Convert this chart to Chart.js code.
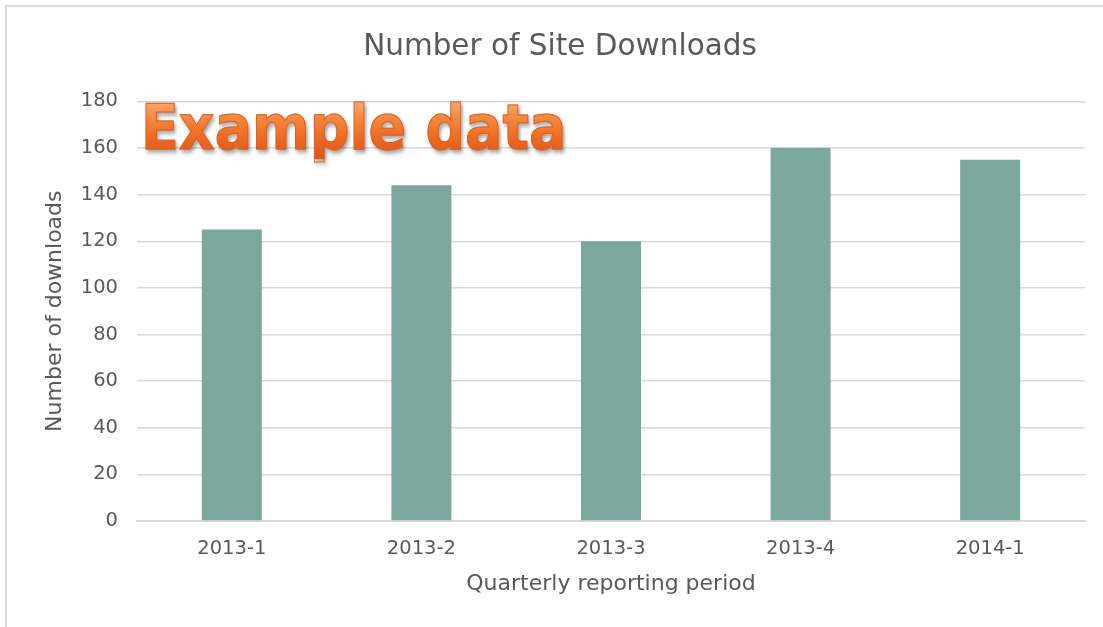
<!DOCTYPE html>
<html>
<head>
<meta charset="utf-8">
<title>Number of Site Downloads</title>
<script src="https://cdn.jsdelivr.net/npm/chart.js@4"></script>
<style>
    html, body { margin: 0; padding: 0; background: #ffffff; overflow: hidden; }
    #wrap { position: relative; width: 1103px; height: 627px; }
    #frame {
        position: absolute; left: 5px; top: 5px; width: 1200px; height: 700px;
        border-top: 2px solid #dcdcdc; border-left: 2px solid #dcdcdc;
        pointer-events: none;
    }
    #downloadsChart { position: absolute; left: 0; top: 0; }
    #stamp {
        position: absolute; left: 141px; top: 96px;
        font-family: "DejaVu Sans", sans-serif; font-weight: bold; font-size: 63px;
        line-height: 1; white-space: nowrap;
        transform-origin: 0 0; transform: scaleX(0.88);
        background: linear-gradient(#fcb583 0%, #f6873f 35%, #ee6b22 65%, #dd5518 100%);
        -webkit-background-clip: text; background-clip: text; color: transparent;
        -webkit-text-stroke: 1px #d9601f;
        filter: drop-shadow(2px 3px 2px rgba(0, 0, 0, 0.35));
    }
</style>
</head>
<body>
<div id="wrap">
    <canvas id="downloadsChart" width="1103" height="627"></canvas>
    <div id="frame"></div>
    <div id="stamp">Example data</div>
</div>
<script>
// ====================================================
// Chart data
// ====================================================
const periods = ['2013-1', '2013-2', '2013-3', '2013-4', '2014-1'];
const downloads = [125, 144, 120, 160, 155];
const yTicks = [0, 20, 40, 60, 80, 100, 120, 140, 160, 180];

const textColor = '#595959';
const gridColor = '#d9d9d9';
const barColor = '#7ba79d';

// ====================================================
// Build chart
// ====================================================
function initializeChart() {
    const ctx = document.getElementById('downloadsChart');

    new Chart(ctx, {
        type: 'bar',
        data: {
            labels: periods,
            datasets: [{
                label: 'Number of downloads',
                data: downloads,
                backgroundColor: barColor,
                borderWidth: 0,
                barPercentage: 0.5,
                categoryPercentage: 0.633
            }]
        },
        options: {
            responsive: false,
            animation: false,
            layout: {
                padding: { left: 35, right: 18, top: 0, bottom: 0 }
            },
            plugins: {
                legend: { display: false },
                tooltip: { enabled: false },
                title: {
                    display: true,
                    text: 'Number of Site Downloads',
                    color: textColor,
                    font: { family: 'DejaVu Sans', size: 29.5, weight: 'normal' },
                    padding: { top: 30, bottom: 36 }
                }
            },
            scales: {
                x: {
                    afterFit: (scale) => { scale.height = 106; },
                    grid: { display: false, drawTicks: false },
                    border: { color: gridColor, width: 2 },
                    ticks: {
                        color: textColor,
                        font: { family: 'DejaVu Sans', size: 19.5 },
                        padding: 16
                    },
                    title: {
                        display: true,
                        text: 'Quarterly reporting period',
                        color: textColor,
                        font: { family: 'DejaVu Sans', size: 22 },
                        padding: { top: 0, bottom: 30 }
                    }
                },
                y: {
                    min: 0,
                    max: 180,
                    afterFit: (scale) => { scale.width = 102; },
                    afterBuildTicks: (scale) => {
                        scale.ticks = yTicks.map(v => ({ value: v }));
                    },
                    grid: { color: gridColor, lineWidth: 1.5, drawTicks: false },
                    border: { display: false },
                    ticks: {
                        color: textColor,
                        font: { family: 'DejaVu Sans', size: 19.5 },
                        padding: 19
                    },
                    title: {
                        display: true,
                        text: 'Number of downloads',
                        color: textColor,
                        font: { family: 'DejaVu Sans', size: 22 },
                        padding: { top: 7, bottom: 0 }
                    }
                }
            }
        }
    });
}

document.addEventListener('DOMContentLoaded', () => {
    initializeChart();
});
</script>
</body>
</html>
